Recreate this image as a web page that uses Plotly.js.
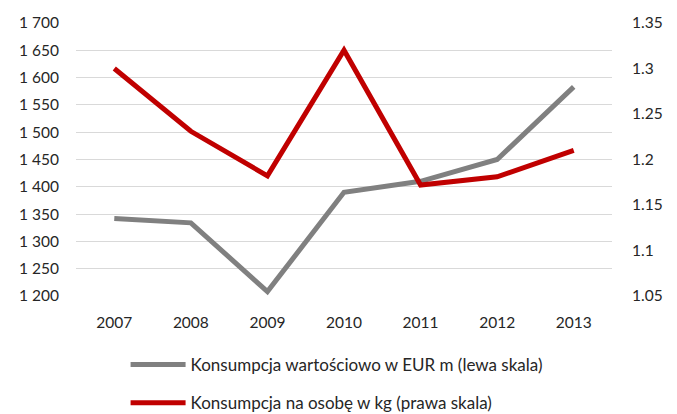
<!DOCTYPE html>
<html>
<head>
<meta charset="utf-8">
<script src="https://cdn.plot.ly/plotly-3.0.1.min.js"></script>
<style>html,body{margin:0;padding:0;background:#fff;}#chart{width:677px;height:414px;}</style>
</head>
<body>
<div id="chart"></div>
<script>
const years = ['2007','2008','2009','2010','2011','2012','2013'];
const valueEUR = [1342, 1334, 1208, 1390, 1410, 1450, 1583];
const perCapitaKg = [1.30, 1.231, 1.182, 1.32, 1.172, 1.181, 1.21];
const leftTicks = [1200,1250,1300,1350,1400,1450,1500,1550,1600,1650,1700];
const leftTickText = ['1 200','1 250','1 300','1 350','1 400','1 450','1 500','1 550','1 600','1 650','1 700'];
const rightTicks = [1.05,1.1,1.15,1.2,1.25,1.3,1.35];
const rightTickText = ['1.05','1.1','1.15','1.2','1.25','1.3','1.35'];
const seriesNames = ['Konsumpcja wartościowo w EUR m (lewa skala)','Konsumpcja na osobę w kg (prawa skala)'];

const font = {family: 'Lato, "Open Sans", sans-serif', size: 15.5, color: '#262626'};
const legendFont = {family: 'Lato, "Open Sans", sans-serif', size: 17, color: '#262626'};

const data = [
  {x: years, y: valueEUR, type: 'scatter', mode: 'lines', name: seriesNames[0],
   line: {color: '#808080', width: 5}, yaxis: 'y', legend: 'legend'},
  {x: years, y: perCapitaKg, type: 'scatter', mode: 'lines', name: seriesNames[1],
   line: {color: '#c00000', width: 5}, yaxis: 'y2', legend: 'legend2'}
];

const layout = {
  width: 677, height: 414,
  margin: {l: 76, r: 65, t: 23, b: 118, autoexpand: false},
  paper_bgcolor: '#fff', plot_bgcolor: '#fff',
  font: font,
  showlegend: true,
  xaxis: {type: 'category', range: [-0.5, 6.5], showgrid: false, zeroline: false, showline: false,
          ticks: 'outside', ticklen: 12, tickcolor: 'rgba(0,0,0,0)', tickfont: font, fixedrange: true},
  yaxis: {range: [1200, 1700], tickvals: leftTicks, ticktext: leftTickText, showgrid: true,
          gridcolor: '#d9d9d9', gridwidth: 1, zeroline: false, showline: false,
          ticks: 'outside', ticklen: 13, tickcolor: 'rgba(0,0,0,0)', tickfont: font},
  yaxis2: {range: [1.05, 1.35], tickvals: rightTicks, ticktext: rightTickText, overlaying: 'y', side: 'right',
           showgrid: false, zeroline: false, showline: false,
           ticks: 'outside', ticklen: 16, tickcolor: 'rgba(0,0,0,0)', tickfont: font},
  legend: {x: 0.0925, y: 0.1184, xref: 'paper', yref: 'container', xanchor: 'left', yanchor: 'middle',
           font: legendFont, itemwidth: 55, bgcolor: 'rgba(0,0,0,0)'},
  legend2: {x: 0.0925, y: 0.0262, xref: 'paper', yref: 'container', xanchor: 'left', yanchor: 'middle',
           font: legendFont, itemwidth: 55, bgcolor: 'rgba(0,0,0,0)'}
};

Plotly.newPlot('chart', data, layout, {displayModeBar: false, staticPlot: true});
</script>
</body>
</html>
